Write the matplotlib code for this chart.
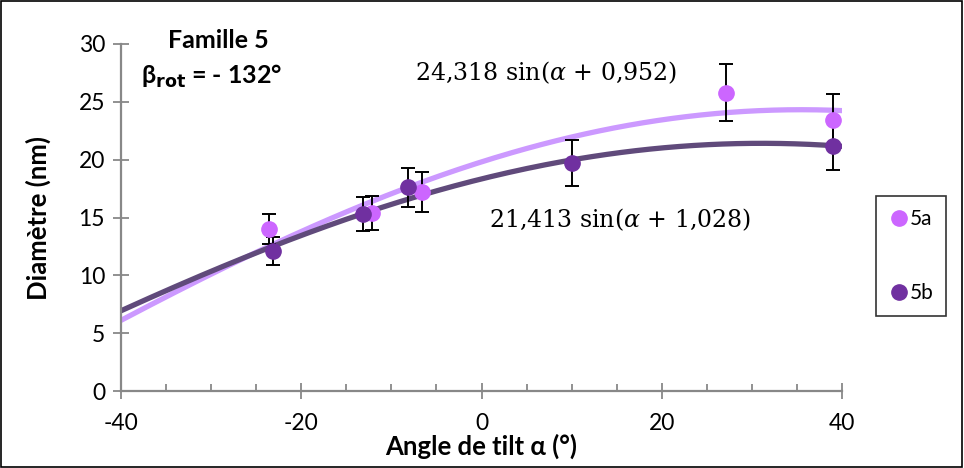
import numpy as np
import matplotlib.pyplot as plt
from matplotlib.lines import Line2D
from matplotlib.ticker import MultipleLocator

# measured diameters (nm) vs tilt angle (deg)
angles_5a = [-23.6, -12.1, -6.6, 27.1, 39.0]
diam_5a = [14.0, 15.4, 17.2, 25.8, 23.4]
err_5a = [1.3, 1.5, 1.7, 2.5, 2.3]

angles_5b = [-23.1, -13.1, -8.1, 10.0, 39.0]
diam_5b = [12.1, 15.3, 17.6, 19.7, 21.2]
err_5b = [1.2, 1.5, 1.7, 2.0, 2.1]

# fitted parameters shown on the chart: A sin(alpha + phi), alpha in rad
fit_5a = (24.318, 0.952)
fit_5b = (21.413, 1.028)

xticks = [-40, -20, 0, 20, 40]
yticks = [0, 5, 10, 15, 20, 25, 30]

light_mk, light_ln = "#CC66FF", "#CC99FF"
dark_mk, dark_ln = "#7030A0", "#604A7B"


def main():
    plt.rcParams["font.family"] = ["Lato", "DejaVu Sans"]
    plt.rcParams["axes.unicode_minus"] = False
    fig = plt.figure(figsize=(9.64, 4.68), dpi=100)
    ax = fig.add_axes([121 / 964, 1 - 391 / 468, 721 / 964, 347 / 468])

    a = np.linspace(-40, 40, 200)
    ax.plot(a, fit_5a[0] * np.sin(np.radians(a) + fit_5a[1]), color=light_ln, lw=3.8, zorder=2)
    ax.plot(a, fit_5b[0] * np.sin(np.radians(a) + fit_5b[1]), color=dark_ln, lw=3.8, zorder=2)

    ax.errorbar(angles_5a, diam_5a, yerr=err_5a, fmt="o", ms=11, color=light_mk,
                ecolor="black", elinewidth=1.4, capsize=5, capthick=1.4, zorder=3)
    ax.errorbar(angles_5b, diam_5b, yerr=err_5b, fmt="o", ms=11, color=dark_mk,
                ecolor="black", elinewidth=1.4, capsize=5, capthick=1.4, zorder=3)

    ax.set_xlim(-40, 40)
    ax.set_ylim(0, 30)
    ax.set_xticks(xticks)
    ax.set_yticks(yticks)
    ax.xaxis.set_minor_locator(MultipleLocator(5))
    ax.tick_params(which="major", labelsize=16.5, direction="inout", length=11,
                   width=1.3, color="#888888")
    ax.tick_params(axis="x", which="minor", direction="in", length=5, width=1.3, color="#888888")
    ax.tick_params(axis="x", pad=10)
    ax.tick_params(axis="y", pad=6)
    for s in ["top", "right"]:
        ax.spines[s].set_visible(False)
    for s in ["left", "bottom"]:
        ax.spines[s].set_color("#888888")
        ax.spines[s].set_linewidth(1.6)
    ax.set_xlabel("Angle de tilt α (°)", fontsize=18.5, fontweight="bold", labelpad=0)
    ax.set_ylabel("Diamètre (nm)", fontsize=18.5, fontweight="bold", labelpad=20)

    fig.text(218 / 964, 1 - 40 / 468, "Famille 5", fontsize=18, fontweight="bold",
             ha="center", va="center")
    fig.text(212 / 964, 1 - 76 / 468, r"β$_{\mathbf{rot}}$ = - 132°", fontsize=18,
             fontweight="bold", ha="center", va="center", math_fontfamily="dejavusans")

    eq = {"family": ["DejaVu Serif"], "fontsize": 17, "math_fontfamily": "dejavuserif"}
    ax.text(-7.4, 27.5, r"24,318 sin($\alpha$ + 0,952)", ha="left", va="center", **eq)
    ax.text(0.8, 14.8, r"21,413 sin($\alpha$ + 1,028)", ha="left", va="center", **eq)

    handles = [Line2D([], [], ls="none", marker="o", ms=11, color=light_mk),
               Line2D([], [], ls="none", marker="o", ms=11, color=dark_mk)]
    leg = fig.legend(handles, ["5a", "5b"], loc="center",
                     bbox_to_anchor=(911 / 964, 1 - 256 / 468), fontsize=15,
                     frameon=True, fancybox=False, edgecolor="black", labelspacing=2.6,
                     handletextpad=0.0, handlelength=1.0, borderpad=0.6, borderaxespad=0)
    leg.get_frame().set_linewidth(1.2)

    fig.patches.append(plt.Rectangle((0.001, 0.002), 0.997, 0.996, transform=fig.transFigure,
                                     fill=False, edgecolor="black", lw=1.2))
    fig.savefig("out.png", dpi=100)


if __name__ == "__main__":
    main()
